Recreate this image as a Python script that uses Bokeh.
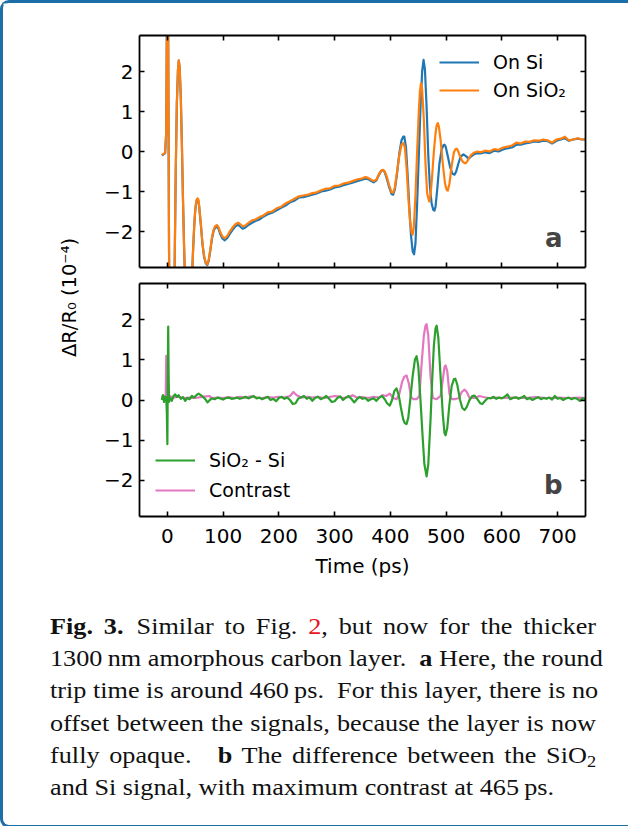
from bokeh.plotting import figure
from bokeh.layouts import column, row
from bokeh.models import (Range1d, LinearAxis, FixedTicker, Label, Div,
                          Legend, LegendItem)
from bokeh.embed import file_html
from bokeh.resources import INLINE

# ---------------- data ----------------
x_ticks = [0, 100, 200, 300, 400, 500, 600, 700]
y_ticks = [-2, -1, 0, 1, 2]
y_tick_labels = {-2: "\u22122", -1: "\u22121", 0: "0", 1: "1", 2: "2"}

on_si = [(-10,-0.1),(-7,-0.07),(-4,-0.04),(-2,0.5),(-1,3.0),(0,5.0),(1,4.5),(2,1.0),(3,-2.5),(4,-4.5),(6,-5.5),(9,-4.5),(12,-3.5),(13,-2.9),(15,-0.5),(17,1.2),(19,2.05),(20.5,2.27),(22,2.1),(24,1.4),(26,0.2),(28,-1.2),(30,-2.4),(32,-3.4),(35,-4.3),(38,-4.6),(41,-4.2),(44,-3.2),(46,-2.5),(48,-1.9),(50,-1.47),(52,-1.25),(54,-1.2),(55.5,-1.23),(57,-1.38),(60,-1.83),(63,-2.33),(66,-2.65),(69,-2.8),(71.5,-2.84),(74,-2.74),(77,-2.48),(80,-2.18),(83,-1.98),(86,-1.9),(89,-1.88),(92,-1.94),(95,-2.07),(99,-2.18),(103,-2.22),(107,-2.17),(112,-2.06),(117,-1.96),(122,-1.87),(127,-1.83),(131,-1.88),(135,-1.93),(140,-1.9),(146,-1.83),(152,-1.78),(158,-1.74),(165,-1.7),(172,-1.63),(180,-1.57),(188,-1.53),(196,-1.47),(204,-1.41),(212,-1.35),(220,-1.27),(228,-1.23),(236,-1.15),(244,-1.14),(252,-1.11),(260,-1.08),(268,-1.05),(276,-1.0),(284,-0.98),(292,-0.95),(300,-0.9),(308,-0.88),(316,-0.84),(324,-0.81),(332,-0.78),(340,-0.74),(348,-0.71),(355,-0.68),(360,-0.69),(365,-0.73),(370,-0.77),(375,-0.72),(380,-0.57),(384,-0.48),(387,-0.47),(390,-0.52),(394,-0.7),(398,-0.9),(402,-1.06),(405,-1.08),(408,-0.95),(412,-0.55),(416,-0.05),(420,0.28),(423,0.37),(425,0.37),(428,0.1),(431,-0.6),(434,-1.4),(437,-2.1),(440,-2.5),(442.5,-2.57),(445,-2.3),(448,-1.3),(451,-0.1),(454,1.1),(457,2.0),(459.5,2.29),(462,2.05),(465,1.1),(468,-0.1),(471,-0.9),(474,-1.3),(477,-1.46),(479,-1.48),(481,-1.38),(484,-0.95),(488,-0.3),(492,0.05),(495,0.15),(497,0.17),(499,0.13),(503,-0.12),(507,-0.38),(511,-0.55),(515,-0.58),(518,-0.5),(522,-0.3),(526,-0.13),(531,-0.07),(536,-0.12),(540,-0.18),(545,-0.12),(550,-0.07),(556,-0.04),(562,-0.05),(570,-0.02),(578,-0.04),(586,0.02),(594,0.0),(602,0.05),(610,0.08),(618,0.1),(626,0.17),(634,0.17),(642,0.2),(650,0.22),(658,0.25),(666,0.24),(674,0.27),(682,0.26),(690,0.2),(698,0.27),(706,0.3),(713,0.33),(720,0.27),(728,0.3),(736,0.32),(744,0.3),(750,0.3)]

on_sio2 = [(-10,-0.08),(-7,-0.06),(-4,-0.03),(-2,0.5),(-1,3.0),(0,5.0),(1,4.5),(2,1.0),(3,-2.5),(4,-4.5),(6,-5.5),(9,-4.5),(12,-3.5),(13,-2.9),(15,-0.5),(17,1.2),(19,2.05),(20.5,2.28),(22,2.1),(24,1.4),(26,0.2),(28,-1.2),(30,-2.4),(32,-3.4),(35,-4.3),(38,-4.6),(41,-4.2),(44,-3.2),(46,-2.5),(48,-1.9),(50,-1.45),(52,-1.22),(54,-1.17),(55.5,-1.2),(57,-1.35),(60,-1.8),(63,-2.3),(66,-2.62),(69,-2.78),(71.5,-2.82),(74,-2.72),(77,-2.45),(80,-2.15),(83,-1.95),(86,-1.86),(89,-1.84),(92,-1.9),(95,-2.02),(99,-2.13),(103,-2.17),(107,-2.12),(112,-2.0),(117,-1.9),(122,-1.82),(127,-1.78),(131,-1.82),(135,-1.87),(140,-1.85),(146,-1.78),(152,-1.72),(158,-1.7),(165,-1.64),(172,-1.6),(180,-1.52),(188,-1.5),(196,-1.42),(204,-1.38),(212,-1.3),(220,-1.24),(228,-1.18),(236,-1.12),(244,-1.1),(252,-1.08),(260,-1.04),(268,-1.02),(276,-0.97),(284,-0.93),(292,-0.92),(300,-0.86),(308,-0.85),(316,-0.8),(324,-0.78),(332,-0.74),(340,-0.7),(348,-0.68),(355,-0.64),(360,-0.66),(365,-0.7),(370,-0.74),(375,-0.7),(380,-0.55),(384,-0.47),(387,-0.46),(390,-0.5),(394,-0.65),(398,-0.85),(402,-1.02),(405,-1.03),(408,-0.9),(412,-0.5),(416,-0.1),(420,0.17),(423.5,0.21),(426,0.1),(429,-0.4),(432,-1.1),(435,-1.7),(438,-2.02),(440,-2.08),(442,-1.9),(445,-1.1),(448,0.0),(451,1.0),(453,1.5),(455,1.71),(457,1.55),(460,0.8),(463,-0.3),(466,-1.05),(469.6,-1.25),(472,-1.1),(475,-0.6),(478,0.0),(481,0.45),(483,0.65),(485,0.71),(487,0.62),(490,0.3),(494,-0.3),(498,-0.8),(501,-0.96),(503,-0.98),(506,-0.8),(510,-0.35),(514,-0.02),(517,0.06),(519,0.07),(521,0.03),(525,-0.12),(529,-0.24),(533,-0.29),(535.5,-0.29),(538,-0.24),(542,-0.14),(546,-0.07),(550,-0.03),(556,0.0),(562,-0.02),(570,0.02),(578,0.0),(586,0.06),(594,0.04),(602,0.1),(610,0.12),(618,0.15),(626,0.22),(634,0.2),(642,0.25),(650,0.24),(658,0.28),(666,0.27),(674,0.3),(682,0.28),(690,0.22),(698,0.3),(706,0.32),(713,0.37),(720,0.28),(728,0.3),(736,0.33),(744,0.3),(750,0.3)]

diff_sio2_si = [(-10,0.0),(-8,0.12),(-6,-0.05),(-4,0.08),(-2,0.02),(-1,-0.3),(0,-1.1),(0.7,0.5),(1.5,1.83),(2.3,0.6),(3,-0.05),(5,0.05),(8,-0.02),(11,0.1),(14,0.14),(17,0.08),(20,0.12),(24,0.03),(28,0.07),(32,-0.02),(36,0.05),(40,0.02),(44,0.1),(48,0.06),(52,0.12),(56,0.16),(60,0.12),(64,0.08),(68,0.02),(72,-0.06),(76,0.0),(80,0.04),(85,0.02),(90,0.06),(95,0.04),(100,0.01),(105,0.05),(110,0.06),(115,0.03),(120,0.04),(125,0.06),(130,0.03),(135,0.05),(140,0.08),(145,0.04),(150,0.07),(155,0.1),(160,0.04),(165,0.06),(170,0.02),(175,0.05),(180,0.08),(185,0.0),(190,0.03),(195,-0.03),(200,0.05),(205,0.08),(210,0.03),(215,0.06),(220,0.0),(225,-0.1),(230,-0.08),(235,0.04),(240,0.07),(245,0.1),(250,0.03),(255,0.06),(260,-0.02),(265,0.05),(270,0.08),(275,0.02),(280,0.05),(285,0.1),(290,0.03),(295,-0.05),(300,-0.03),(305,0.05),(310,0.09),(315,0.0),(320,0.06),(325,0.1),(330,0.03),(335,-0.06),(340,0.02),(345,0.08),(350,0.03),(355,0.05),(360,-0.02),(365,0.02),(370,0.04),(375,-0.02),(380,0.06),(385,0.1),(390,0.02),(394,-0.08),(399,-0.14),(403,0.0),(407,0.22),(411,0.29),(415,0.12),(419,-0.2),(423,-0.48),(426,-0.58),(429,-0.6),(432,-0.45),(436,0.05),(440,0.6),(444,1.0),(447,1.09),(450,0.85),(454,0.0),(458,-0.95),(461,-1.6),(465,-1.9),(468,-1.6),(472,-0.5),(475,0.5),(478,1.35),(481,1.78),(483,1.85),(486,1.55),(490,0.6),(494,-0.35),(497,-0.82),(499,-0.88),(502,-0.7),(506,-0.1),(510,0.35),(514,0.52),(516.6,0.53),(520,0.38),(525,0.0),(529,-0.2),(533,-0.25),(537,-0.17),(542,0.0),(547,0.1),(551,0.11),(556,0.02),(561,-0.08),(565,-0.1),(570,-0.02),(575,0.05),(580,0.04),(585,0.08),(590,0.03),(595,0.06),(600,0.04),(605,0.08),(610,0.14),(615,0.02),(620,0.05),(625,0.07),(630,0.03),(635,0.06),(640,0.1),(645,0.02),(650,0.05),(655,0.0),(660,0.04),(665,0.07),(670,0.02),(675,0.05),(680,0.03),(685,0.06),(690,0.01),(695,0.1),(700,0.03),(705,0.05),(710,0.0),(715,0.04),(720,0.06),(725,0.02),(730,0.05),(735,0.03),(740,-0.02),(745,0.04),(750,0.02)]

contrast = [(-10,0.1),(-8,0.06),(-6,0.1),(-4,0.05),(-3,0.08),(-2,1.1),(-1.2,0.1),(1,0.05),(4,0.1),(10,0.06),(20,0.08),(30,0.05),(40,0.06),(50,0.05),(60,0.07),(70,0.09),(75,0.1),(80,0.05),(90,0.06),(100,0.05),(110,0.07),(120,0.05),(130,0.08),(140,0.06),(150,0.09),(160,0.06),(170,0.05),(180,0.07),(190,0.06),(200,0.08),(210,0.06),(220,0.1),(226,0.2),(232,0.12),(240,0.06),(250,0.08),(260,0.06),(270,0.08),(280,0.05),(290,0.07),(300,0.1),(306,0.09),(315,0.05),(325,0.07),(332,0.12),(340,0.06),(350,0.07),(360,0.05),(370,0.08),(380,0.06),(386,0.12),(392,0.1),(399,0.16),(405,0.05),(411,0.02),(416,0.15),(421,0.45),(425,0.58),(429,0.61),(433,0.42),(437,0.08),(441,0.02),(447,0.02),(452,0.1),(456,0.9),(460,1.6),(463,1.85),(465,1.89),(468,1.6),(472,0.6),(476,0.05),(483,0.02),(490,0.1),(494,0.5),(497,0.82),(499,0.86),(502,0.72),(506,0.15),(510,0.02),(516,0.02),(523,0.05),(528,0.2),(533,0.26),(537,0.2),(542,0.05),(550,0.05),(560,0.1),(565,0.08),(575,0.05),(590,0.06),(600,0.05),(620,0.06),(640,0.05),(660,0.07),(680,0.05),(700,0.06),(720,0.05),(740,0.06),(750,0.05)]

legend_a = ["On Si", "On SiO\u2082"]
legend_b = ["SiO\u2082 - Si", "Contrast"]
x_label = "Time (ps)"
y_label = "\u0394R/R\u2080 (10\u207b\u2074)"
panel_tags = ["a", "b"]

caption_lines = [
    "<b>Fig. 3.</b>&ensp;Similar to Fig. <span style='color:#e8141c'>2</span>, but now for the thicker",
    "1300&thinsp;nm amorphous carbon layer.&ensp;<b>a</b> Here, the round",
    "trip time is around 460&thinsp;ps.&ensp;For this layer, there is no",
    "offset between the signals, because the layer is now",
    "fully opaque.&ensp;&ensp;<b>b</b> The difference between the SiO<sub style='font-size:70%;line-height:0;vertical-align:-0.22em'>2</sub>",
    "and Si signal, with maximum contrast at 465&thinsp;ps.",
]

# ---------------- styling ----------------
FONT = "DejaVu Sans"
SERIF = "Liberation Serif, Times New Roman, Times, serif"
C_SI, C_SIO2, C_DIFF, C_CON = "#1f77b4", "#ff7f0e", "#2ca02c", "#e377c2"
LW = 2.2


def xs(pts):
    return [p[0] for p in pts]


def ys(pts):
    return [p[1] for p in pts]


def style_axes(p, x_labels):
    p.xgrid.visible = False
    p.ygrid.visible = False
    p.outline_line_color = None
    bottom = p.below[0]
    left = p.left[0]
    top = LinearAxis()
    right = LinearAxis()
    p.add_layout(top, "above")
    p.add_layout(right, "right")
    for ax in (bottom, top):
        ax.ticker = FixedTicker(ticks=x_ticks)
    for ax in (left, right):
        ax.ticker = FixedTicker(ticks=y_ticks)
    left.major_label_overrides = y_tick_labels
    for ax in (bottom, top, left, right):
        ax.major_tick_in = 5
        ax.major_tick_out = 0
        ax.minor_tick_in = 0
        ax.minor_tick_out = 0
        ax.axis_line_width = 1.8
        ax.axis_line_color = "black"
        ax.major_tick_line_width = 1.6
        ax.major_tick_line_color = "black"
        ax.major_label_text_font = FONT
        ax.major_label_text_font_size = "20px"
        ax.major_label_text_color = "black"
        ax.major_label_standoff = 6
    bottom.major_label_standoff = 12
    hidden = [(top, x_ticks), (right, y_ticks)] + ([] if x_labels else [(bottom, x_ticks)])
    for ax, tks in hidden:
        ax.major_label_overrides = {t: "" for t in tks}
        ax.major_label_text_font_size = "1px"
        ax.major_label_standoff = 0
    if x_labels:
        bottom.axis_label = x_label
        bottom.axis_label_text_font = FONT
        bottom.axis_label_text_font_size = "20px"
        bottom.axis_label_text_font_style = "normal"
        bottom.axis_label_text_color = "black"
        bottom.axis_label_standoff = 8


def make_legend(items, loc, spacing):
    return Legend(items=items, location=loc, border_line_color=None,
                  background_fill_alpha=0, padding=0, margin=0,
                  spacing=spacing, glyph_width=40, glyph_height=20,
                  label_height=20, label_standoff=14,
                  label_text_font=FONT, label_text_font_size="19px",
                  label_text_color="black")


# panel a
pa = figure(width=531, height=272, x_range=Range1d(-50, 750),
            y_range=Range1d(-2.9, 2.9), output_backend="svg",
            toolbar_location=None, min_border_left=50, min_border_right=35,
            min_border_top=32, min_border_bottom=8)
style_axes(pa, False)
r_si = pa.line(xs(on_si), ys(on_si), line_color=C_SI, line_width=LW, line_join="round")
r_sio2 = pa.line(xs(on_sio2), ys(on_sio2), line_color=C_SIO2, line_width=LW, line_join="round")
pa.add_layout(make_legend([LegendItem(label=legend_a[0], renderers=[r_si]),
                           LegendItem(label=legend_a[1], renderers=[r_sio2])],
                          (300, 166), 6))
pa.add_layout(Label(x=709, y=-2.17, text=panel_tags[0], text_align="right",
                    text_baseline="alphabetic", text_font=FONT,
                    text_font_size="26px", text_font_style="bold"))

# panel b
pb = figure(width=531, height=317, x_range=Range1d(-50, 750),
            y_range=Range1d(-2.9, 2.9), output_backend="svg",
            toolbar_location=None, min_border_left=50, min_border_right=35,
            min_border_top=8, min_border_bottom=76)
style_axes(pb, True)
r_con = pb.line(xs(contrast), ys(contrast), line_color=C_CON, line_width=LW, line_join="round")
r_diff = pb.line(xs(diff_sio2_si), ys(diff_sio2_si), line_color=C_DIFF, line_width=LW, line_join="round")
pb.add_layout(make_legend([LegendItem(label=legend_b[0], renderers=[r_diff]),
                           LegendItem(label=legend_b[1], renderers=[r_con])],
                          (16, 15), 8))
pb.add_layout(Label(x=709, y=-2.12, text=panel_tags[1], text_align="right",
                    text_baseline="alphabetic", text_font=FONT,
                    text_font_size="26px", text_font_style="bold"))

# shared y label
H = 272 + 317
ylab = figure(width=86, height=H, x_range=Range1d(0, 86), y_range=Range1d(0, H),
              x_axis_type=None, y_axis_type=None, output_backend="svg",
              toolbar_location=None, min_border=0)
ylab.outline_line_color = None
ylab.add_layout(Label(x=66, y=H - 294, text=y_label, angle=1.5708,
                      text_align="center", text_baseline="middle",
                      text_font=FONT, text_font_size="19.5px",
                      text_color="black"))

# caption
blocks = []
for i, ln in enumerate(caption_lines):
    align = "text-align:left;" if i == len(caption_lines) - 1 else "text-align:justify;text-align-last:justify;"
    blocks.append(f"<div style='{align}white-space:nowrap;'>{ln}</div>")
cap_html = ("<div style='margin:14px 0 0 42px;width:479px;transform:scaleX(1.14);"
            "transform-origin:0 0;font-family:inherit;"
            "font-size:23px;line-height:32.2px;color:#111;'>" + "".join(blocks) + "</div>")
cap = Div(text=cap_html, width=617, height=223,
          styles={"font-family": SERIF})

BORDER = "3px solid #1b6ea8"
layout = column(row(ylab, column(pa, pb)), cap,
                styles={"border-left": BORDER, "border-top": BORDER,
                        "border-bottom": BORDER,
                        "box-sizing": "content-box",
                        "border-top-left-radius": "9px",
                        "border-bottom-left-radius": "9px"})

open("out.html", "w").write(file_html(layout, INLINE))
